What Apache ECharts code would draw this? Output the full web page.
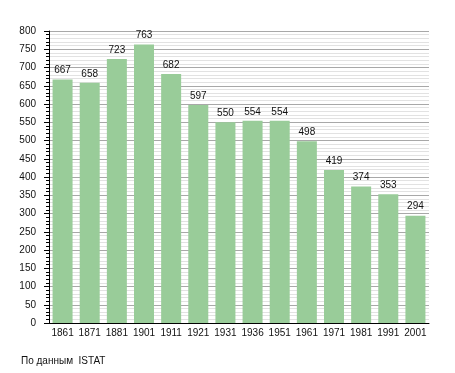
<!DOCTYPE html>
<html>
<head>
<meta charset="utf-8">
<script src="https://cdn.jsdelivr.net/npm/echarts@6/dist/echarts.min.js"></script>
<style>
html,body{margin:0;padding:0;background:#fff;}
#c{width:455px;height:373px;}
</style>
</head>
<body>
<div id="c"></div>
<script>
const years = ['1861','1871','1881','1901','1911','1921','1931','1936','1951','1961','1971','1981','1991','2001'];
const population = [667,658,723,763,682,597,550,554,554,498,419,374,353,294];
const sourceNote = 'По данным  ISTAT';

const FONT = '"Liberation Sans", Arial, sans-serif';
const chart = echarts.init(document.getElementById('c'), null, {renderer:'canvas'});
chart.setOption({
  animation:false,
  backgroundColor:'#ffffff',
  grid:{left:49, top:31, width:380, height:292, containLabel:false},
  graphic:[{
    type:'text', left:21, top:356,
    style:{text:sourceNote, fill:'#111', font:'10px ' + FONT}
  }],
  xAxis:{
    type:'category', data:years,
    axisLine:{show:true, lineStyle:{color:'#000', width:1}},
    axisTick:{show:false},
    axisLabel:{color:'#111', fontSize:10, fontFamily:FONT, margin:5, interval:0},
    splitLine:{show:false}
  },
  yAxis:{
    type:'value', min:0, max:800, interval:50,
    axisLine:{show:true, lineStyle:{color:'#000', width:1}},
    axisTick:{show:true, length:5, lineStyle:{color:'#000'}},
    minorTick:{show:true, splitNumber:5, length:3, lineStyle:{color:'#000'}},
    axisLabel:{color:'#111', fontSize:10, fontFamily:FONT, margin:13},
    splitLine:{show:true, lineStyle:{color:'#a8a8a8', width:1}},
    minorSplitLine:{show:true, lineStyle:{color:'#e2e2e2', width:1}}
  },
  series:[{
    type:'bar', data:population, barWidth:20,
    itemStyle:{color:'#99cc99'},
    label:{show:true, position:'top', distance:4, color:'#111', fontSize:10, fontFamily:FONT}
  }]
});
</script>
</body>
</html>
